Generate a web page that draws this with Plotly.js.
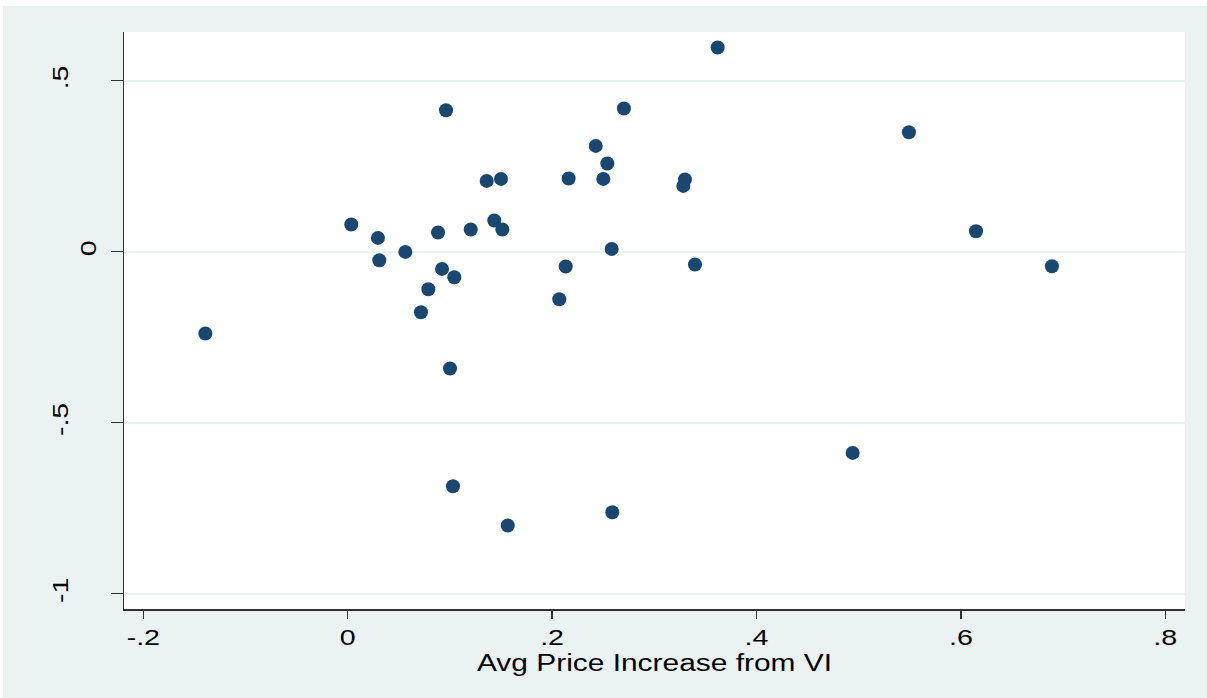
<!DOCTYPE html>
<html>
<head>
<meta charset="utf-8">
<script src="https://cdn.plot.ly/plotly-3.0.1.min.js"></script>
<style>
  html, body { margin: 0; padding: 0; background: #ffffff; }
  #chart { position: absolute; left: 3px; top: 6px; width: 1204px; height: 692px; }
</style>
</head>
<body>
<div id="chart"></div>
<script>
// Average price increase from VI (x) against the outcome measure (y)
const priceIncrease = [
  0.362, 0.0962, 0.2703, 0.5492, 0.2427, 0.2540, 0.1360, 0.1500, 0.2162,
  0.2501, 0.3300, 0.3284, 0.0035, 0.1434, 0.0884, 0.1204, 0.1513, 0.0296,
  0.0564, 0.2583, 0.6148, 0.0309, 0.0923, 0.2133, 0.3398, 0.6891, 0.1043,
  0.0789, 0.2070, 0.0717, -0.1393, 0.1001, 0.4941, 0.1030, 0.1566, 0.2589
];
const outcome = [
  0.597, 0.4137, 0.4187, 0.3494, 0.3094, 0.2579, 0.2070, 0.2129, 0.2140,
  0.2129, 0.2111, 0.1924, 0.0795, 0.0912, 0.0561, 0.0649, 0.0649, 0.0404,
  -0.0006, 0.0082, 0.0599, -0.0249, -0.0503, -0.0433, -0.0374, -0.0424, -0.0746,
  -0.1096, -0.1389, -0.1769, -0.2392, -0.3415, -0.5883, -0.6857, -0.8006, -0.7617
];

const xTickVals = [-0.2, 0, 0.2, 0.4, 0.6, 0.8];
const xTickText = ['-.2', '0', '.2', '.4', '.6', '.8'];
const yTickVals = [-1, -0.5, 0, 0.5];
const yTickText = ['-1', '-.5', '0', '.5'];

const trace = {
  x: priceIncrease,
  y: outcome,
  type: 'scatter',
  mode: 'markers',
  marker: { color: '#1a476f', size: 14, line: { width: 0 } },
  hoverinfo: 'x+y'
};

const layout = {
  width: 1204,
  height: 692,
  paper_bgcolor: '#eaf2f3',
  plot_bgcolor: '#ffffff',
  margin: { l: 121, r: 22, t: 26, b: 89 },
  showlegend: false,
  font: { family: 'Liberation Sans, Arial, sans-serif', color: '#000000', size: 22 },
  xaxis: {
    range: [-0.2189, 0.8193],
    tickvals: xTickVals,
    ticktext: xTickText,
    ticks: 'outside',
    ticklen: 8,
    tickwidth: 1.5,
    tickcolor: '#333333',
    showline: true,
    linecolor: '#333333',
    linewidth: 1.5,
    showgrid: false,
    zeroline: false,
    tickfont: { size: 22 },
    title: { text: 'Avg Price Increase from VI', font: { size: 23 }, standoff: 0 }
  },
  yaxis: {
    range: [-1.0447, 0.6424],
    tickvals: yTickVals,
    ticktext: yTickText,
    tickangle: -90,
    ticks: 'outside',
    ticklen: 12,
    tickwidth: 1.5,
    tickcolor: '#333333',
    showline: true,
    linecolor: '#333333',
    linewidth: 1.5,
    showgrid: true,
    gridcolor: '#eaf2f3',
    gridwidth: 2,
    zeroline: false,
    tickfont: { size: 22 },
    ticklabelstandoff: 34
  }
};

// Widen the axis text a little, in the style of the wide Stata-like lettering
function widenText(gd, factor) {
  const nodes = gd.querySelectorAll('.xtick text, .ytick text, .g-xtitle text');
  nodes.forEach(function (t) {
    const len = t.getComputedTextLength();
    if (len > 0) {
      t.setAttribute('textLength', (len * factor).toFixed(1));
      t.setAttribute('lengthAdjust', 'spacingAndGlyphs');
    }
  });
}

// The single-character "0" label sits closer to the axis than the others
function nudgeZeroLabel(gd) {
  gd.querySelectorAll('.ytick text').forEach(function (t) {
    if (t.textContent === '0') {
      const g = t.parentNode;
      const prev = g.getAttribute('transform') || '';
      g.setAttribute('transform', prev + ' translate(28,0)');
    }
  });
}

Plotly.newPlot('chart', [trace], layout, { displayModeBar: false, staticPlot: true })
  .then(function (gd) { widenText(gd, 1.3); nudgeZeroLabel(gd); });
</script>
</body>
</html>
